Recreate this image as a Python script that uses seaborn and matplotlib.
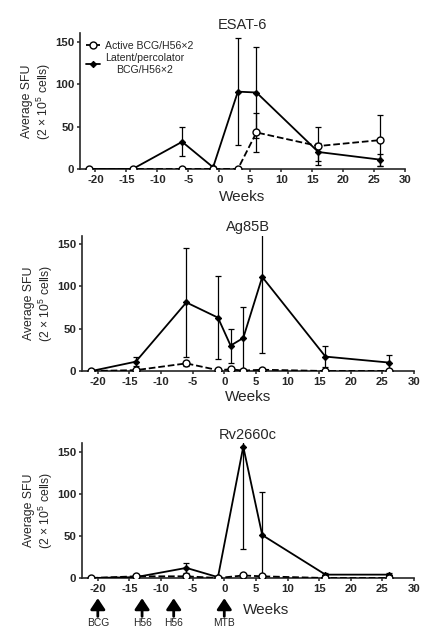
import numpy as np
import pandas as pd
import seaborn as sns
import matplotlib
matplotlib.use('Agg')
import matplotlib.pyplot as plt
import matplotlib.transforms as mtrans

# ESAT-6
esat_weeks = [-21, -14, -6, -1, 3, 6, 16, 26]
esat_active = [0, 0, 0, 0, 0, 43, 27, 34]
esat_active_sd = [0, 0, 0, 0, 0, 23, 22, 30]
esat_latent = [0, 0, 32, 2, 91, 90, 20, 11]
esat_latent_sd = [0, 0, 17, 0, 63, 54, 11, 7]

# Ag85B
ag_weeks = [-21, -14, -6, -1, 1, 3, 6, 16, 26]
ag_active = [0, 1, 9, 1, 2, 0.5, 1.5, 0, 0]
ag_active_sd = [0, 0, 3, 0, 0, 0, 0, 0, 0]
ag_latent = [0, 11, 81, 63, 30, 39, 111, 17, 10]
ag_latent_sd = [0, 5, 64, 49, 20, 37, 90, 12, 9]

# Rv2660c
rv_weeks = [-21, -14, -6, -1, 3, 6, 16, 26]
rv_active = [0, 2, 2, 0, 3, 2, 0, 0]
rv_active_sd = [0, 0, 0, 0, 0, 0, 0, 0]
rv_latent = [0, 1, 12, 1, 156, 51, 4, 4]
rv_latent_sd = [0, 0, 6, 0, 122, 51, 2, 2]

# vaccination / challenge arrows
event_weeks = [-20, -13, -8, 0]
event_labels = ['BCG', 'H56', 'H56', 'MTB']

sns.set_style('ticks')
plt.rcParams['font.family'] = ['Liberation Sans', 'DejaVu Sans']
plt.rcParams['mathtext.fontset'] = 'custom'
plt.rcParams['mathtext.rm'] = 'Liberation Sans'
plt.rcParams['mathtext.it'] = 'Liberation Sans'
plt.rcParams['axes.unicode_minus'] = False

fig = plt.figure(figsize=(4.3, 6.37), dpi=100)

panels = [
    ('ESAT-6', esat_weeks, esat_active, esat_active_sd, esat_latent, esat_latent_sd,
     [80, 405, 169, 33], -0.155),
    ('Ag85B', ag_weeks, ag_active, ag_active_sd, ag_latent, ag_latent_sd,
     [82, 414, 371, 235.5], -0.14),
    ('Rv2660c', rv_weeks, rv_active, rv_active_sd, rv_latent, rv_latent_sd,
     [82, 414, 578, 443.3], None),
]

W, H = 430, 637
axes = []
for title, wk, act, act_sd, lat, lat_sd, box, xl_y in panels:
    l, r, b, t = box
    ax = fig.add_axes([l / W, 1 - b / H, (r - l) / W, (b - t) / H])
    axes.append(ax)

    ax.errorbar(wk, lat, yerr=lat_sd, fmt='none', ecolor='black',
                elinewidth=0.9, capsize=2.3, capthick=0.9, zorder=2)
    ax.errorbar(wk, act, yerr=act_sd, fmt='none', ecolor='black',
                elinewidth=0.9, capsize=2.3, capthick=0.9, zorder=2)
    sns.lineplot(x=wk, y=lat, ax=ax, color='black', lw=1.3, marker='D',
                 markersize=3.2, markeredgecolor='black', label='Latent/percolator\nBCG/H56×2',
                 zorder=3)
    sns.lineplot(x=wk, y=act, ax=ax, color='black', lw=1.3, linestyle='--',
                 marker='o', markersize=5, markerfacecolor='white',
                 markeredgecolor='black', markeredgewidth=1.0,
                 label='Active BCG/H56×2', zorder=4)

    ax.set_xlim(-22.5, 30)
    ax.set_ylim(0, 160)
    ax.set_xticks(np.arange(-20, 31, 5))
    ax.set_yticks([0, 50, 100, 150])
    sns.despine(ax=ax)
    for s in ['left', 'bottom']:
        ax.spines[s].set_linewidth(1.2)
    ax.tick_params(width=1.1, length=2.5, pad=1.5, labelsize=8.2)
    for lab in ax.get_xticklabels() + ax.get_yticklabels():
        lab.set_fontweight('bold')
    ax.set_title(title, fontsize=10.5, pad=3)
    ax.set_ylabel('Average SFU\n(2 × 10$^5$ cells)', fontsize=8.8, labelpad=1.5,
                  linespacing=1.1)
    ax.set_xlabel('Weeks', fontsize=11)
    if xl_y is not None:
        ax.xaxis.set_label_coords(0.5, xl_y)
    if title == 'ESAT-6':
        h, lb = ax.get_legend_handles_labels()
        leg = ax.legend(h[::-1], lb[::-1], loc='upper left', bbox_to_anchor=(0.0, 0.99),
                        frameon=False, fontsize=7.6, handlelength=1.3,
                        handletextpad=0.5, borderaxespad=0.2, labelspacing=0.25)
        for txt in leg.get_texts():
            txt.set_multialignment('center')
    else:
        ax.get_legend().remove()

# arrows under the last panel
ax3 = axes[2]
ax3.xaxis.set_label_coords(0.554, -0.186)
trans = mtrans.blended_transform_factory(ax3.transData, ax3.transAxes)
for xw, lab in zip(event_weeks, event_labels):
    ax3.annotate('', xy=(xw, -0.15), xytext=(xw, -0.285), xycoords=trans,
                 textcoords=trans, annotation_clip=False,
                 arrowprops=dict(arrowstyle='-|>,head_width=0.4,head_length=0.6',
                                 lw=2, color='black', mutation_scale=11,
                                 shrinkA=0, shrinkB=0))
    ax3.text(xw, -0.335, lab, transform=trans, ha='center', va='center',
             fontsize=7.4, clip_on=False)

fig.savefig('out.png', dpi=100)
